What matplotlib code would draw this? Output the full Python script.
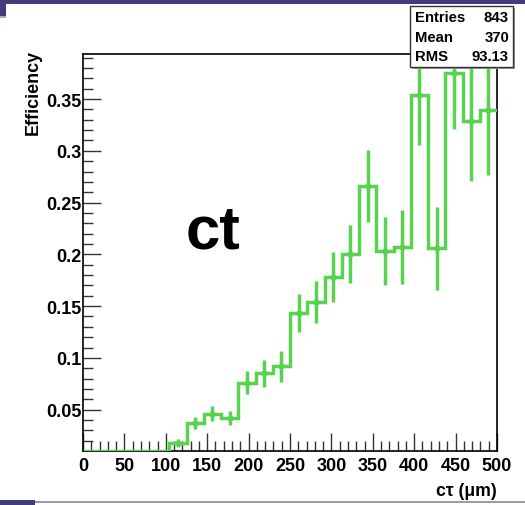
import numpy as np
import matplotlib
matplotlib.use("Agg")
import matplotlib.pyplot as plt
from matplotlib.patches import Rectangle
from matplotlib.ticker import MultipleLocator

# ---- data ----
bin_edges = np.linspace(0, 500, 25)
efficiency = [0.0, 0.0, 0.0, 0.0, 0.0,
              0.018, 0.037, 0.046, 0.042, 0.076, 0.085, 0.092,
              0.1435, 0.154, 0.178, 0.200, 0.266, 0.203, 0.207,
              0.354, 0.206, 0.375, 0.329, 0.339]
errors = [0.0, 0.0, 0.0, 0.0, 0.0,
          0.004, 0.0057, 0.0074, 0.0072, 0.011, 0.0129, 0.0148,
          0.018, 0.0203, 0.024, 0.028, 0.0347, 0.033, 0.036,
          0.048, 0.040, 0.054, 0.0585, 0.062]
stats_labels = ["Entries", "Mean", "RMS"]
stats_values = ["843", "370", "93.13"]
x_label = "cτ (μm)"
y_label = "Efficiency"
annotation = "ct"
y_ticks = [0.05, 0.1, 0.15, 0.2, 0.25, 0.3, 0.35]
y_ticklabels = ['0.05', '0.1', '0.15', '0.2', '0.25', '0.3', '0.35']
x_ticks = list(range(0, 501, 50))

plt.rcParams['font.family'] = ['Liberation Sans', 'DejaVu Sans']

green = '#58d24f'
ymin, ymax = 0.0101, 0.3935

fig = plt.figure(figsize=(5.25, 5.06), dpi=100)
fig.patch.set_facecolor('white')

ax = fig.add_axes([83/525, 1-452/506, (497-83)/525, (452-55)/506])
ax.set_xlim(0, 500)
ax.set_ylim(ymin, ymax)

vals = np.array(efficiency)
errs = np.array(errors)
disp = np.maximum(vals, ymin + 0.0003)
centers = 0.5 * (bin_edges[:-1] + bin_edges[1:])

ax.stairs(disp, bin_edges, color=green, lw=2.5, baseline=None, zorder=3)
mask = vals > 0
ax.errorbar(centers[mask], vals[mask], yerr=errs[mask], fmt='o', ms=3.5,
            color=green, ecolor=green, elinewidth=2.5, capsize=0, zorder=3)

for s in ax.spines.values():
    s.set_linewidth(1.2)
    s.set_color('black')

ax.xaxis.set_minor_locator(MultipleLocator(10))
ax.yaxis.set_minor_locator(MultipleLocator(0.01))
ax.tick_params(which='both', direction='in', top=False, right=False, width=1.0, color='#333333')
ax.tick_params(which='major', length=13, labelsize=13)
ax.tick_params(which='minor', length=7)
ax.tick_params(axis='y', which='major', pad=1)
ax.tick_params(axis='x', which='major', pad=4)
ax.set_yticks(y_ticks)
ax.set_yticklabels(y_ticklabels, fontweight='bold')
ax.set_xticks(x_ticks)
ax.set_xticklabels([str(v) for v in x_ticks], fontweight='bold')

fig.text(33/525, 1-50/506, y_label, rotation=90, ha='center', va='top',
         fontsize=13, fontweight='bold')
fig.text(497/525, 1-492/506, x_label, ha='right', va='center',
         fontsize=12.7, fontweight='bold')
fig.text(186/525, 1-233/506, annotation, ha='left', va='center',
         fontsize=44.5, fontweight='bold')

# stats box
box = Rectangle((410/525, 1-68/506), (513-410)/525, (68-7)/506,
                transform=fig.transFigure, facecolor='white', edgecolor='#333333',
                lw=1.0, zorder=10)
shadow = Rectangle((412/525, 1-70/506), (513-410)/525, (68-7)/506,
                   transform=fig.transFigure, facecolor='#999999', edgecolor='none',
                   zorder=9)
fig.add_artist(shadow)
fig.add_artist(box)
for i, (lab, val) in enumerate(zip(stats_labels, stats_values)):
    y = 1 - (18 + 19.5 * i) / 506
    fig.text(415/525, y, lab, ha='left', va='center', fontsize=10.7,
             fontweight='bold', zorder=11)
    fig.text(509/525, y, val, ha='right', va='center', fontsize=10.7,
             fontweight='bold', zorder=11)

# slide decorations
fig.add_artist(Rectangle((0, 1-5/506), 1, 5/506, transform=fig.transFigure,
                         facecolor='#423d7a', edgecolor='none', zorder=0))
fig.add_artist(Rectangle((0, 1-17/506), 6/525, 12/506, transform=fig.transFigure,
                         facecolor='#423d7a', edgecolor='none', zorder=0))
fig.add_artist(Rectangle((0, 1-19/506), 6/525, 2/506, transform=fig.transFigure,
                         facecolor='#a9a6c8', edgecolor='none', zorder=0))
fig.add_artist(Rectangle((0, 2/506), 1, 2/506, transform=fig.transFigure,
                         facecolor='#9b99bb', edgecolor='none', zorder=0))
fig.add_artist(Rectangle((0, 0), 35/525, 5/506, transform=fig.transFigure,
                         facecolor='#423d7a', edgecolor='none', zorder=0))

fig.savefig('out.png', dpi=100)
